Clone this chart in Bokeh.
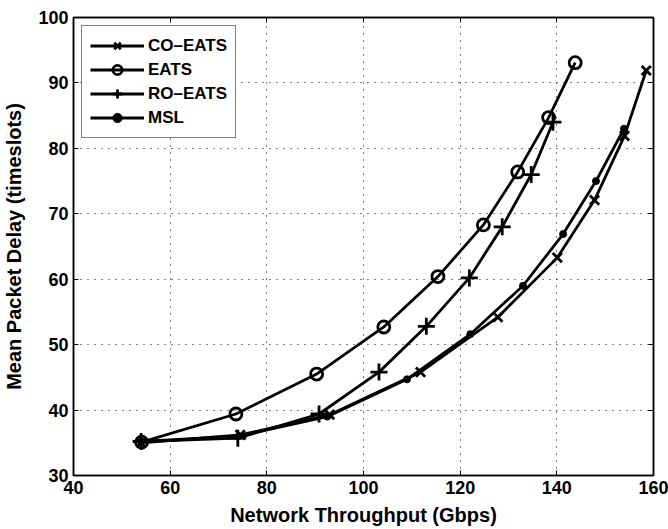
from bokeh.plotting import figure
from bokeh.models import LinearAxis, Range1d, Legend, LegendItem, FixedTicker
from bokeh.embed import file_html
from bokeh.resources import INLINE

co_x = [54, 74.5, 93, 111.8, 127.8, 140.1, 147.8, 154.0, 158.5]
co_y = [35.0, 36.2, 39.3, 45.8, 54.2, 63.3, 72.1, 81.9, 91.9]
eats_x = [54.1, 73.6, 90.3, 104.2, 115.4, 124.8, 131.9, 138.3, 143.8]
eats_y = [35.1, 39.4, 45.5, 52.7, 60.4, 68.3, 76.4, 84.7, 93.1]
ro_x = [54, 74.0, 90.8, 103.2, 113.0, 121.9, 128.7, 134.7, 139.2]
ro_y = [35.2, 35.7, 39.4, 45.8, 52.8, 60.2, 68.0, 76.0, 84.0]
msl_x = [54, 74.2, 92.5, 109.0, 122.1, 133.0, 141.3, 148.1, 153.9]
msl_y = [35.2, 36.0, 39.0, 44.7, 51.6, 59.0, 66.9, 75.0, 83.0]

x_ticks = [40, 60, 80, 100, 120, 140, 160]
y_ticks = [30, 40, 50, 60, 70, 80, 90, 100]

FONT = "Liberation Sans"

p = figure(width=668, height=529, output_backend="svg", toolbar_location=None,
           x_range=Range1d(40, 160), y_range=Range1d(30, 100),
           min_border_left=73, min_border_right=15, min_border_top=17, min_border_bottom=54)
p.background_fill_color = "white"
p.border_fill_color = "white"
p.outline_line_color = "black"
p.outline_line_width = 1.5

for ax in p.xaxis + p.yaxis:
    ax.major_label_text_font = FONT
    ax.major_label_text_font_style = "bold"
    ax.major_label_text_font_size = "18px"
    ax.major_label_text_color = "black"
    ax.axis_label_text_font = FONT
    ax.axis_label_text_font_style = "bold"
    ax.axis_label_text_font_size = "20px"
    ax.axis_label_text_color = "black"
    ax.major_tick_in = 5
    ax.major_tick_out = 0
    ax.minor_tick_line_color = None
    ax.axis_line_color = "black"
    ax.axis_line_width = 1.5
    ax.major_tick_line_color = "black"

p.xaxis.ticker = FixedTicker(ticks=x_ticks)
p.yaxis.ticker = FixedTicker(ticks=y_ticks)
p.xaxis.axis_label = "Network Throughput (Gbps)"
p.yaxis.axis_label = "Mean Packet Delay (timeslots)"
p.xaxis.major_label_standoff = 5
p.yaxis.major_label_standoff = 5
p.xaxis.axis_label_standoff = 7
p.yaxis.axis_label_standoff = 10

top = LinearAxis(ticker=FixedTicker(ticks=x_ticks),
                 major_label_overrides={t: "" for t in x_ticks},
                 major_tick_in=5, major_tick_out=0, minor_tick_line_color=None,
                 axis_line_width=1.5, major_label_standoff=0)
right = LinearAxis(ticker=FixedTicker(ticks=y_ticks),
                   major_label_overrides={t: "" for t in y_ticks},
                   major_tick_in=5, major_tick_out=0, minor_tick_line_color=None,
                   axis_line_width=1.5, major_label_standoff=0)
p.add_layout(top, "above")
p.add_layout(right, "right")

p.xgrid[0].ticker = FixedTicker(ticks=x_ticks)
p.ygrid[0].ticker = FixedTicker(ticks=y_ticks)
for g in (p.xgrid[0], p.ygrid[0]):
    g.grid_line_color = "black"
    g.grid_line_dash = "1 6"
    g.grid_line_width = 1
    g.grid_line_alpha = 1.0

LW = 2.8
items = []

l1 = p.line(co_x, co_y, line_color="black", line_width=LW)
m1 = p.scatter(co_x, co_y, marker="x", size=13, line_color="black", line_width=2.8)
items.append(LegendItem(label="CO\u2013EATS", renderers=[l1, m1]))

l2 = p.line(eats_x, eats_y, line_color="black", line_width=LW)
m2 = p.scatter(eats_x, eats_y, marker="circle", size=12, line_color="black",
               fill_color=None, line_width=2.8)
items.append(LegendItem(label="EATS", renderers=[l2, m2]))

l3 = p.line(ro_x, ro_y, line_color="black", line_width=LW)
m3 = p.scatter(ro_x, ro_y, marker="cross", size=17, line_color="black", line_width=2.8)
items.append(LegendItem(label="RO\u2013EATS", renderers=[l3, m3]))

l4 = p.line(msl_x, msl_y, line_color="black", line_width=LW)
m4 = p.scatter(msl_x, msl_y, marker="circle", size=7, line_color="black",
               fill_color="black", line_width=1)
items.append(LegendItem(label="MSL", renderers=[l4, m4]))

legend = Legend(items=items, location="top_left")
legend.label_text_font = FONT
legend.label_text_font_style = "bold"
legend.label_text_font_size = "17px"
legend.label_text_color = "black"
legend.border_line_color = "black"
legend.border_line_width = 1.5
legend.margin = 8
legend.padding = 8
legend.spacing = 1
legend.glyph_width = 54
legend.label_standoff = 4
legend.label_height = 23
legend.glyph_height = 23
p.add_layout(legend, "center")

open("out.html", "w").write(file_html(p, INLINE))
